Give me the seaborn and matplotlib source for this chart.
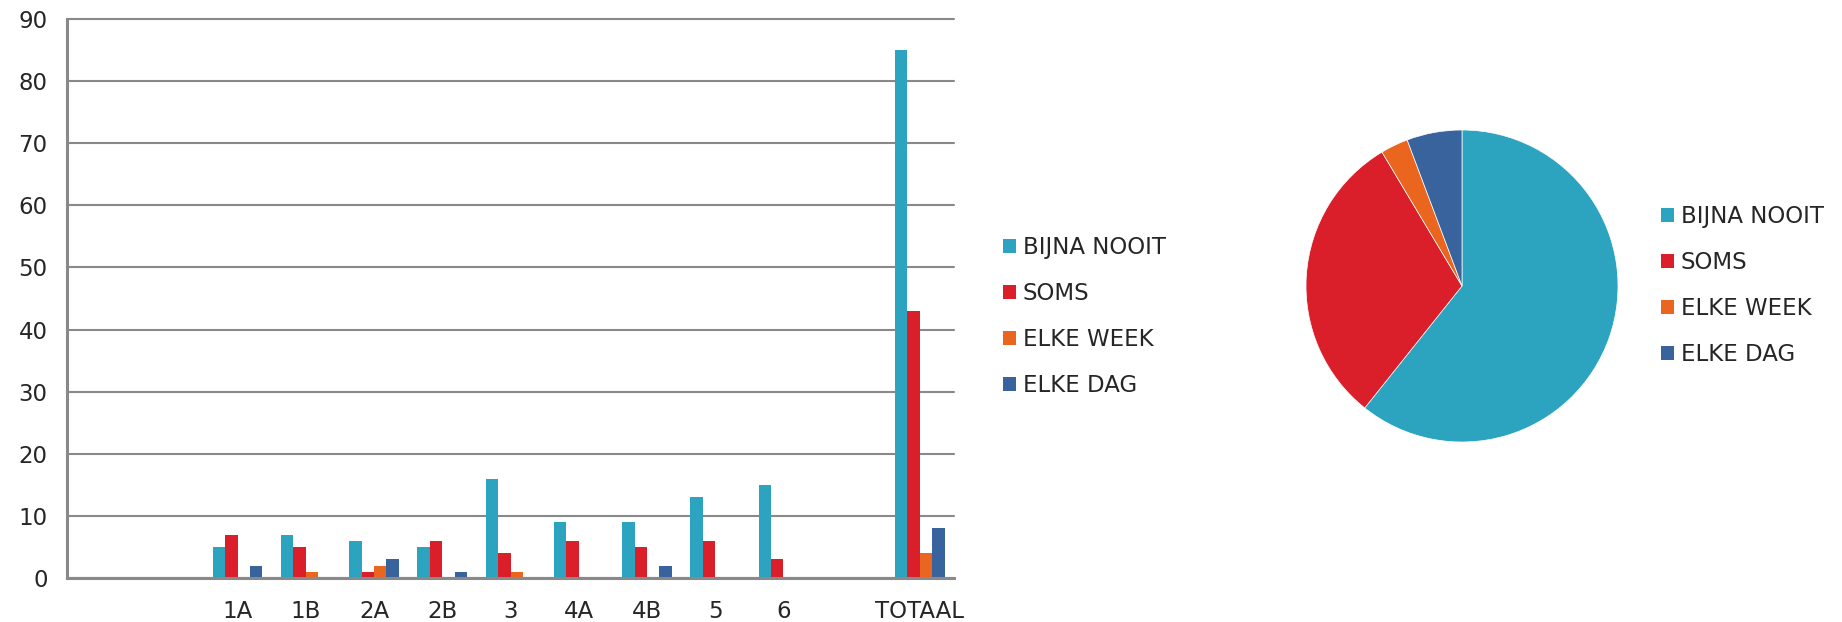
import matplotlib
matplotlib.use("Agg")
import matplotlib.pyplot as plt
import matplotlib.patches as mpatches
import pandas as pd
import seaborn as sns

# * data
groups = ["1A", "1B", "2A", "2B", "3", "4A", "4B", "5", "6", "TOTAAL"]
bijna_nooit = [5, 7, 6, 5, 16, 9, 9, 13, 15, 85]
soms = [7, 5, 1, 6, 4, 6, 5, 6, 3, 43]
elke_week = [0, 1, 2, 0, 1, 0, 0, 0, 0, 4]
elke_dag = [2, 0, 3, 1, 0, 0, 2, 0, 0, 8]

series = ["BIJNA NOOIT", "SOMS", "ELKE WEEK", "ELKE DAG"]
colors = ["#2CA3BF", "#DA1F2A", "#EA661F", "#39639D"]

# x axis has empty slots; placeholders must be unique for seaborn
order = [" ", "  ", "1A", "1B", "2A", "2B", "3", "4A", "4B", "5", "6", "   ", "TOTAAL"]
tick_labels = ["", "", "1A", "1B", "2A", "2B", "3", "4A", "4B", "5", "6", "", "TOTAAL"]

pie_values = [bijna_nooit[-1], soms[-1], elke_week[-1], elke_dag[-1]]

df = pd.DataFrame({"groep": groups, series[0]: bijna_nooit, series[1]: soms,
                   series[2]: elke_week, series[3]: elke_dag})
long = df.melt(id_vars="groep", var_name="frequentie", value_name="aantal")

sns.set_style("white")
plt.rcParams["font.family"] = ["DejaVu Sans"]
FS = 16.5
GRAY = "#898989"

fig = plt.figure(figsize=(18.42, 6.22), dpi=100)
ax = fig.add_axes([67 / 1842, 1 - 578 / 622, (954 - 67) / 1842, (578 - 19) / 622])

sns.barplot(data=long, x="groep", y="aantal", hue="frequentie", order=order,
            hue_order=series, palette=colors, width=0.73, gap=0,
            linewidth=0, saturation=1, legend=False, ax=ax)

ax.set_xlim(-0.5, len(order) - 0.5)
ax.set_ylim(0, 90)
ax.set_yticks(range(0, 91, 10))
ax.set_xticks(range(len(order)))
ax.set_xticklabels(tick_labels, fontsize=FS)
ax.set_xticks([i - 0.5 for i in range(len(order) + 1)], minor=True)
ax.tick_params(axis="x", which="major", length=0, pad=16)
ax.tick_params(axis="x", which="minor", length=8, width=1.6, color=GRAY)
ax.tick_params(axis="y", length=8, width=1.4, color=GRAY, pad=6, labelsize=FS)
ax.set_xlabel("")
ax.set_ylabel("")

ax.yaxis.grid(True, color=GRAY, linewidth=1.5)
for gl in ax.get_ygridlines():
    gl.set_clip_on(False)
ax.set_axisbelow(True)
sns.despine(ax=ax, top=True, right=True)
for side in ["left", "bottom"]:
    ax.spines[side].set_color(GRAY)
    ax.spines[side].set_linewidth(2.2)

handles = [mpatches.Patch(facecolor=c, edgecolor="none", label=s)
           for c, s in zip(colors, series)]
leg_kw = dict(frameon=False, fontsize=FS, handlelength=0.57, handleheight=0.57,
              handletextpad=0.3, labelspacing=1.0, borderpad=0, borderaxespad=0,
              loc="upper left")
fig.legend(handles=handles, bbox_to_anchor=(1003 / 1842, 1 - 236 / 622), **leg_kw)

# ? pie of the totals
pax = fig.add_axes([(1462 - 156) / 1842, 1 - (286 + 156) / 622, 312 / 1842, 312 / 622])
pax.pie(pie_values, colors=colors, startangle=90, counterclock=False,
        wedgeprops=dict(edgecolor="white", linewidth=0.5))
pax.set_xlim(-1, 1)
pax.set_ylim(-1, 1)
pax.set_aspect("auto")
pax.axis("off")

fig.legend(handles=handles, bbox_to_anchor=(1661 / 1842, 1 - 205 / 622), **leg_kw)

fig.savefig("out.png", dpi=100)
